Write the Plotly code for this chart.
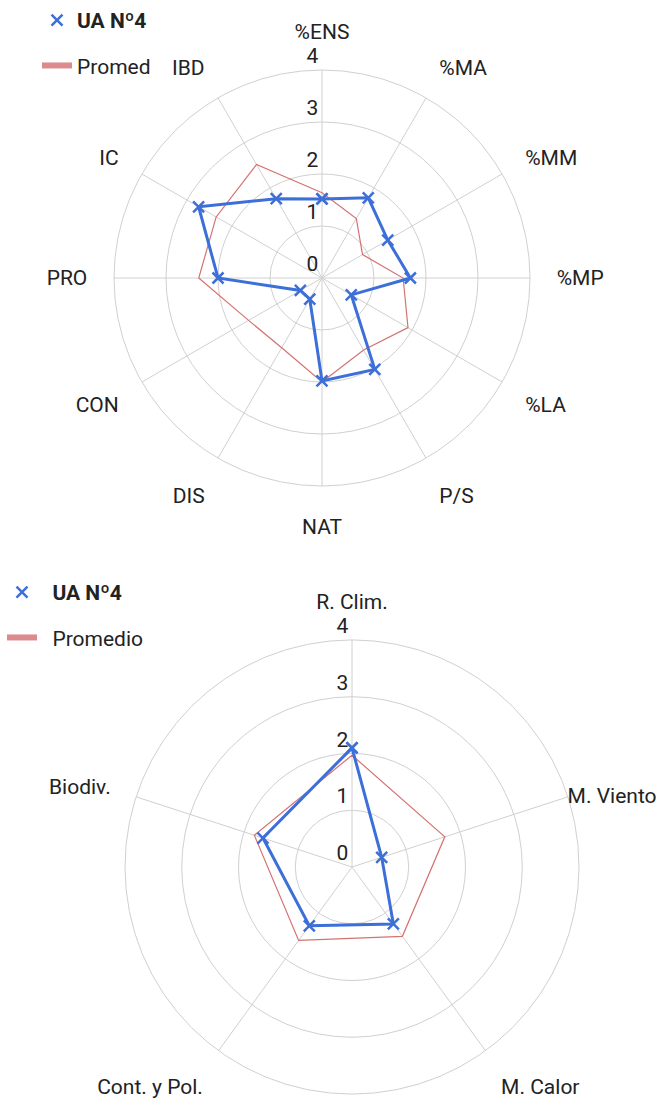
import plotly.graph_objects as go

# ---- data: top chart ----
cats_top = ["%ENS", "%MA", "%MM", "%MP", "%LA", "P/S", "NAT", "DIS", "CON", "PRO", "IC", "IBD"]
ua_top = [1.52, 1.78, 1.46, 1.70, 0.65, 2.03, 1.98, 0.47, 0.48, 2.00, 2.74, 1.76]
prom_top = [1.64, 1.32, 0.90, 1.56, 1.91, 1.60, 2.00, 1.55, 1.63, 2.37, 2.35, 2.52]

# ---- data: bottom chart ----
cats_bot = ["R. Clim.", "M. Viento", "M. Calor", "Cont. y Pol.", "Biodiv."]
ua_bot = [2.10, 0.55, 1.24, 1.28, 1.65]
prom_bot = [1.97, 1.72, 1.51, 1.60, 1.81]

radial_ticks = [0, 1, 2, 3, 4]
radial_text = [str(v) + "<br>\u00a0" for v in radial_ticks]

BLUE = "#3d6fd9"
RED = "#d47272"
RED_LEG = "#dc8a8e"
GRID = "#d0d0d0"
FONT = "Roboto"
FS = 21
NEAR_EDGE = "M. Viento"   # label drawn closer to the ring so it fits the page

MARK = dict(symbol="x-thin", size=11, line=dict(color=BLUE, width=2.5))


def closed(v):
    return list(v) + [v[0]]


fig = go.Figure()


def add_chart(subplot, legend, cats, ua, prom, ua_name, prom_name):
    # data traces
    fig.add_trace(go.Scatterpolar(
        r=closed(prom), theta=closed(cats), mode="lines",
        line=dict(color=RED, width=1.2), name=prom_name,
        subplot=subplot, showlegend=False))
    fig.add_trace(go.Scatterpolar(
        r=closed(ua), theta=closed(cats), mode="lines+markers",
        line=dict(color=BLUE, width=3), marker=MARK, name=ua_name,
        subplot=subplot, showlegend=False))
    # legend entries (swatch styles as in the original legend)
    fig.add_trace(go.Scatterpolar(
        r=[None], theta=[cats[0]], mode="markers", marker=MARK, name=ua_name,
        subplot=subplot, legend=legend, legendgroup=legend + "1", legendrank=1))
    fig.add_trace(go.Scatterpolar(
        r=[None], theta=[cats[0]], mode="lines", line=dict(color=RED_LEG, width=6),
        name=prom_name,
        subplot=subplot, legend=legend, legendgroup=legend + "2", legendrank=2))


add_chart("polar", "legend", cats_top, ua_top, prom_top, "<b>UA Nº4</b>", "Promed")
add_chart("polar2", "legend2", cats_bot, ua_bot, prom_bot,
          "\u00a0\u00a0<b>UA Nº4</b>", "\u00a0\u00a0Promedio")

# invisible carrier for the overlay subplot holding one category label
fig.add_trace(go.Scatterpolar(
    r=ua_bot, theta=cats_bot, mode="markers", marker=dict(opacity=0),
    showlegend=False, hoverinfo="skip", subplot="polar3"))

W, H = 659, 1099


def dom(cx, cy, R):
    return dict(x=[(cx - R) / W, (cx + R) / W], y=[1 - (cy + R) / H, 1 - (cy - R) / H])


def polar_layout(cx, cy, R, cats, ticktext=None):
    ang = dict(
        rotation=90, direction="clockwise", gridcolor=GRID, gridwidth=1,
        linecolor=GRID, linewidth=1, showline=True,
        categoryorder="array", categoryarray=cats,
        ticks="outside", ticklen=22, tickcolor="rgba(0,0,0,0)",
        tickfont=dict(family=FONT, size=FS, color="#222"),
    )
    if ticktext is not None:
        ang.update(tickmode="array", tickvals=cats, ticktext=ticktext)
    return dict(
        domain=dom(cx, cy, R),
        bgcolor="white",
        radialaxis=dict(
            range=[0, 4], tickmode="array", tickvals=radial_ticks, ticktext=radial_text,
            angle=90, tickangle=90, side="counterclockwise",
            showline=False, gridcolor=GRID, gridwidth=1, ticks="",
            tickfont=dict(family=FONT, size=FS, color="#222"),
        ),
        angularaxis=ang,
    )


overlay = dict(
    domain=dom(352, 867, 198),
    bgcolor="rgba(0,0,0,0)",
    radialaxis=dict(range=[0, 4], visible=False),
    angularaxis=dict(
        rotation=90, direction="clockwise", showgrid=False, showline=False,
        categoryorder="array", categoryarray=cats_bot,
        tickmode="array", tickvals=cats_bot,
        ticktext=[c if c == NEAR_EDGE else "" for c in cats_bot],
        ticks="outside", ticklen=24, tickcolor="rgba(0,0,0,0)",
        tickfont=dict(family=FONT, size=FS, color="#222"),
    ),
)

fig.update_layout(
    width=W, height=H,
    margin=dict(l=0, r=0, t=0, b=0),
    paper_bgcolor="white",
    font=dict(family=FONT, size=FS, color="#222"),
    polar=polar_layout(322, 278, 208, cats_top),
    polar2=polar_layout(352, 867, 227, cats_bot,
                        ticktext=[("" if c == NEAR_EDGE else c) for c in cats_bot]),
    polar3=overlay,
    legend=dict(x=37 / W, y=1.0, xanchor="left", yanchor="top",
                traceorder="grouped", tracegroupgap=15,
                font=dict(family=FONT, size=FS, color="#222"), bgcolor="rgba(0,0,0,0)"),
    legend2=dict(x=2 / W, y=1 - 572 / H, xanchor="left", yanchor="top",
                 traceorder="grouped", tracegroupgap=15,
                 font=dict(family=FONT, size=FS, color="#222"), bgcolor="rgba(0,0,0,0)"),
    showlegend=True,
)

fig.write_html("out.html", config={"displayModeBar": False},
               post_script="document.body.style.margin='0';")
